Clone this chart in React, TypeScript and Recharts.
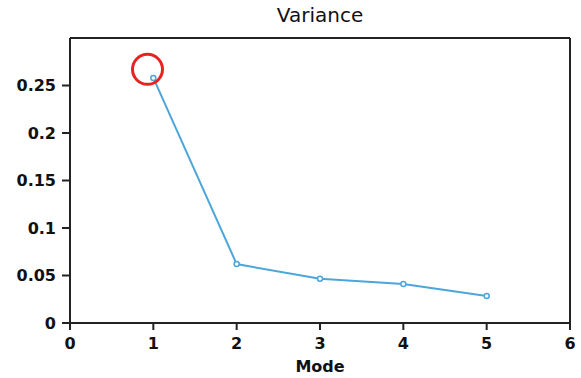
import { Line, LineChart, XAxis, YAxis, ReferenceLine, ReferenceDot, Label } from 'recharts'

const modes = [1, 2, 3, 4, 5]
const variance = [0.258, 0.062, 0.0465, 0.041, 0.0285]
const xTicks = [0, 1, 2, 3, 4, 5, 6]
const yTicks = [0, 0.05, 0.1, 0.15, 0.2, 0.25]

const data = modes.map((m, i) => ({ mode: m, variance: variance[i] }))

const font = '"DejaVu Sans", sans-serif'
const tickStyle = { fill: '#111', fontSize: 16, fontWeight: 'bold' as const, fontFamily: font }

const App = () => {
  return (
    <div style={{ position: 'absolute', left: 0, top: 0, width: 581, height: 378, background: '#fff' }}>
      <div
        style={{
          position: 'absolute',
          left: 70,
          width: 500,
          top: 3,
          textAlign: 'center',
          fontFamily: font,
          fontSize: 20,
          color: '#111',
        }}
      >
        Variance
      </div>
      <LineChart width={581} height={378} data={data} margin={{ top: 38, right: 11, left: 0, bottom: 0 }}>
        <XAxis
          dataKey="mode"
          type="number"
          domain={[0, 6]}
          ticks={xTicks}
          height={55}
          stroke="#222"
          strokeWidth={2}
          tickSize={7}
          tick={tickStyle}
          tickMargin={8}
        >
          <Label value="Mode" position="insideBottom" offset={6} style={{ fill: '#111', fontSize: 16, fontWeight: 'bold', fontFamily: font }} />
        </XAxis>
        <YAxis
          type="number"
          domain={[0, 0.3]}
          ticks={yTicks}
          width={70}
          stroke="#222"
          strokeWidth={2}
          tickSize={8}
          tick={tickStyle}
          tickMargin={6}
        />
        <ReferenceLine y={0.3} stroke="#222" strokeWidth={2} />
        <ReferenceLine x={6} stroke="#222" strokeWidth={2} />
        <Line
          type="linear"
          dataKey="variance"
          stroke="#4ba6db"
          strokeWidth={2}
          dot={{ r: 2.5, fill: '#fff', stroke: '#4ba6db', strokeWidth: 1.5 }}
          isAnimationActive={false}
        />
        <ReferenceDot x={0.93} y={0.267} r={15} fill="none" stroke="#e8231f" strokeWidth={3} />
      </LineChart>
    </div>
  )
}

export default App
